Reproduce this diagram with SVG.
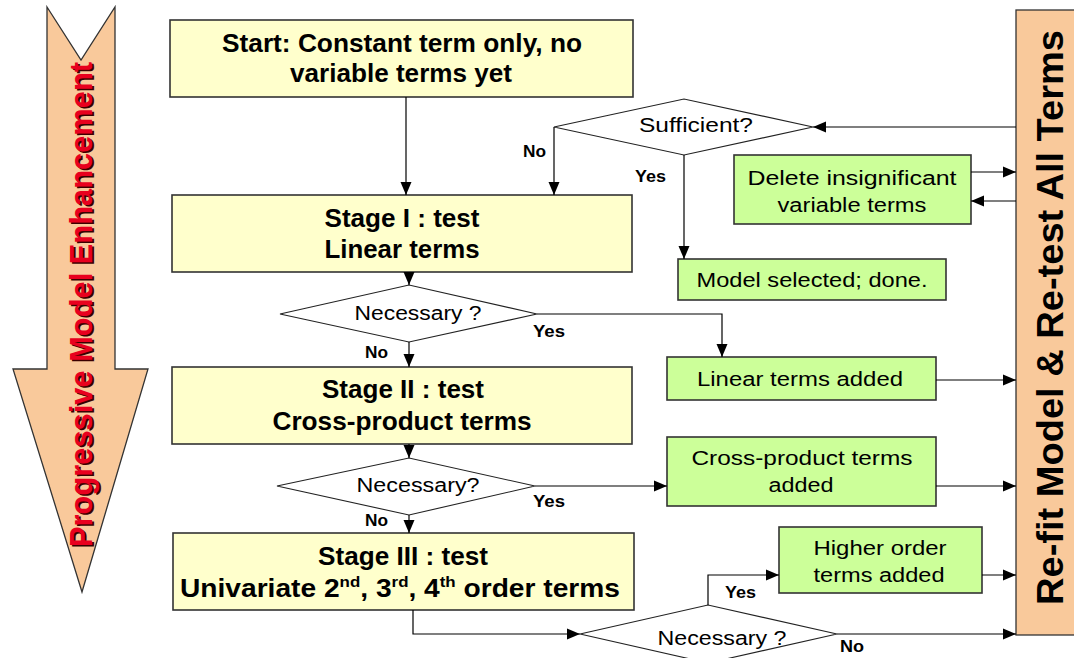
<svg xmlns="http://www.w3.org/2000/svg" width="1074" height="658" viewBox="0 0 1074 658">
<defs>
<marker id="ah" markerUnits="userSpaceOnUse" markerWidth="14" markerHeight="12" refX="13" refY="6" orient="auto">
<path d="M0,0.5 L13,6 L0,11.5 z" fill="#000"/>
</marker>
<style>
.yb{fill:#FFFFCC;stroke:#333;stroke-width:1.6}
.gb{fill:#CCFF99;stroke:#333;stroke-width:1.6}
.dm{fill:#fff;stroke:#222;stroke-width:1.1}
.pe{fill:#F9C99B;stroke:#333;stroke-width:1.3}
.bt{font-family:"Liberation Sans",Arial,sans-serif;font-weight:bold;font-size:25px;fill:#000;text-anchor:middle}
.st{font-family:"Liberation Sans",Arial,sans-serif;font-size:20px;fill:#000;text-anchor:middle}
.lb{font-family:"Liberation Sans",Arial,sans-serif;font-weight:bold;font-size:16px;fill:#000}
.cn{fill:none;stroke:#000;stroke-width:1.2}
</style>
</defs>
<rect width="1074" height="658" fill="#fff"/>

<g id="progressive-arrow">
<polygon class="pe" points="47,7 81,60 115,7 115,369 148,369 82,592 13,369 47,369"/>
<text transform="translate(93.5,306) rotate(-90)" x="0" y="0" text-anchor="middle" font-family="'Liberation Sans',Arial,sans-serif" font-weight="bold" font-size="30.5" fill="#3a0000" textLength="485" lengthAdjust="spacingAndGlyphs">Progressive Model Enhancement</text>
<text transform="translate(92,304.5) rotate(-90)" x="0" y="0" text-anchor="middle" font-family="'Liberation Sans',Arial,sans-serif" font-weight="bold" font-size="30.5" fill="#E8001E" textLength="485" lengthAdjust="spacingAndGlyphs">Progressive Model Enhancement</text>
</g>

<g id="refit-box">
<rect class="pe" x="1016" y="10" width="70" height="625"/>
<text transform="translate(1063,317.5) rotate(-90)" x="0" y="0" text-anchor="middle" font-family="'Liberation Sans',Arial,sans-serif" font-weight="bold" font-size="37" fill="#000" textLength="575" lengthAdjust="spacingAndGlyphs">Re-fit Model &amp; Re-test All Terms</text>
</g>

<g id="start">
<rect class="yb" x="170" y="20" width="463" height="77"/>
<text class="bt" x="402" y="52" textLength="360" lengthAdjust="spacingAndGlyphs">Start: Constant term only, no</text>
<text class="bt" x="401" y="82" textLength="222" lengthAdjust="spacingAndGlyphs">variable terms yet</text>
</g>

<g id="stage1">
<rect class="yb" x="172" y="195" width="460" height="77"/>
<text class="bt" x="402" y="227" textLength="155" lengthAdjust="spacingAndGlyphs">Stage I : test</text>
<text class="bt" x="402" y="258" textLength="155" lengthAdjust="spacingAndGlyphs">Linear terms</text>
</g>

<g id="sufficient">
<polygon class="dm" points="554,127 684,99 813,127 684,155"/>
<text class="st" x="696" y="132" textLength="114" lengthAdjust="spacingAndGlyphs">Sufficient?</text>
</g>

<g id="delete">
<rect class="gb" x="734" y="155" width="237" height="69"/>
<text class="st" x="852" y="185" textLength="209" lengthAdjust="spacingAndGlyphs">Delete insignificant</text>
<text class="st" x="852" y="212" textLength="149" lengthAdjust="spacingAndGlyphs">variable terms</text>
</g>

<g id="model-selected">
<rect class="gb" x="678" y="259" width="268" height="41"/>
<text class="st" x="812" y="287" textLength="231" lengthAdjust="spacingAndGlyphs">Model selected; done.</text>
</g>

<g id="necessary1">
<polygon class="dm" points="280,314 409,285 537,314 409,342"/>
<text class="st" x="418" y="320" textLength="127" lengthAdjust="spacingAndGlyphs">Necessary ?</text>
</g>

<g id="linear-added">
<rect class="gb" x="667" y="357" width="269" height="43"/>
<text class="st" x="800" y="386" textLength="206" lengthAdjust="spacingAndGlyphs">Linear terms added</text>
</g>

<g id="stage2">
<rect class="yb" x="172" y="367" width="460" height="77"/>
<text class="bt" x="403" y="398" textLength="162" lengthAdjust="spacingAndGlyphs">Stage II : test</text>
<text class="bt" x="402" y="430" textLength="259" lengthAdjust="spacingAndGlyphs">Cross-product terms</text>
</g>

<g id="necessary2">
<polygon class="dm" points="277,486 409,458 535,486 409,515"/>
<text class="st" x="418" y="492" textLength="123" lengthAdjust="spacingAndGlyphs">Necessary?</text>
</g>

<g id="cross-added">
<rect class="gb" x="667" y="437" width="269" height="69"/>
<text class="st" x="802" y="465" textLength="221" lengthAdjust="spacingAndGlyphs">Cross-product terms</text>
<text class="st" x="801" y="492" textLength="65" lengthAdjust="spacingAndGlyphs">added</text>
</g>

<g id="stage3">
<rect class="yb" x="173" y="533" width="461" height="77"/>
<text class="bt" x="403" y="565" textLength="170" lengthAdjust="spacingAndGlyphs">Stage III : test</text>
<text class="bt" x="400" y="597" textLength="440" lengthAdjust="spacingAndGlyphs">Univariate 2<tspan font-size="15" dy="-10">nd</tspan><tspan dy="10">, 3</tspan><tspan font-size="15" dy="-10">rd</tspan><tspan dy="10">, 4</tspan><tspan font-size="15" dy="-10">th</tspan><tspan dy="10"> order terms</tspan></text>
</g>

<g id="higher-added">
<rect class="gb" x="779" y="527" width="203" height="66"/>
<text class="st" x="880" y="555" textLength="133" lengthAdjust="spacingAndGlyphs">Higher order</text>
<text class="st" x="879" y="582" textLength="131" lengthAdjust="spacingAndGlyphs">terms added</text>
</g>

<g id="necessary3">
<polygon class="dm" points="580,634 708,605 837,634 708,663"/>
<text class="st" x="722" y="645" textLength="129" lengthAdjust="spacingAndGlyphs">Necessary ?</text>
</g>

<g id="connectors">
<line class="cn" x1="406" y1="97" x2="406" y2="195" marker-end="url(#ah)"/>
<line class="cn" x1="1016" y1="127" x2="813" y2="127" marker-end="url(#ah)"/>
<line class="cn" x1="554" y1="127" x2="554" y2="195" marker-end="url(#ah)"/>
<line class="cn" x1="684" y1="155" x2="684" y2="259" marker-end="url(#ah)"/>
<line class="cn" x1="971" y1="172" x2="1016" y2="172" marker-end="url(#ah)"/>
<line class="cn" x1="1016" y1="201" x2="971" y2="201" marker-end="url(#ah)"/>
<line class="cn" x1="409" y1="272" x2="409" y2="285" marker-end="url(#ah)"/>
<polyline class="cn" points="537,314 722,314 722,357" marker-end="url(#ah)"/>
<line class="cn" x1="409" y1="342" x2="409" y2="367" marker-end="url(#ah)"/>
<line class="cn" x1="936" y1="380" x2="1016" y2="380" marker-end="url(#ah)"/>
<line class="cn" x1="409" y1="444" x2="409" y2="458" marker-end="url(#ah)"/>
<line class="cn" x1="535" y1="486" x2="667" y2="486" marker-end="url(#ah)"/>
<line class="cn" x1="936" y1="486" x2="1016" y2="486" marker-end="url(#ah)"/>
<line class="cn" x1="409" y1="515" x2="409" y2="533" marker-end="url(#ah)"/>
<polyline class="cn" points="413,610 413,634 580,634" marker-end="url(#ah)"/>
<polyline class="cn" points="708,605 708,575 779,575" marker-end="url(#ah)"/>
<line class="cn" x1="982" y1="575" x2="1016" y2="575" marker-end="url(#ah)"/>
<line class="cn" x1="837" y1="634" x2="1016" y2="634" marker-end="url(#ah)"/>
<text class="lb" x="523" y="157" textLength="23" lengthAdjust="spacingAndGlyphs">No</text>
<text class="lb" x="635" y="182" textLength="31" lengthAdjust="spacingAndGlyphs">Yes</text>
<text class="lb" x="533" y="337" textLength="32" lengthAdjust="spacingAndGlyphs">Yes</text>
<text class="lb" x="365" y="358" textLength="23" lengthAdjust="spacingAndGlyphs">No</text>
<text class="lb" x="533" y="507" textLength="32" lengthAdjust="spacingAndGlyphs">Yes</text>
<text class="lb" x="365" y="526" textLength="23" lengthAdjust="spacingAndGlyphs">No</text>
<text class="lb" x="725" y="598" textLength="31" lengthAdjust="spacingAndGlyphs">Yes</text>
<text class="lb" x="840" y="652" textLength="24" lengthAdjust="spacingAndGlyphs">No</text>
</g>
</svg>
